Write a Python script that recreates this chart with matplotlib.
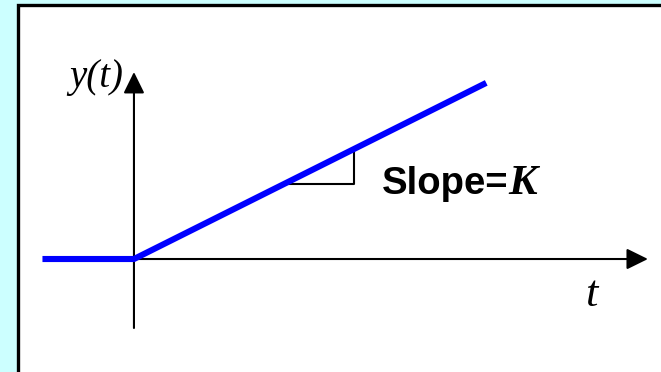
import matplotlib
matplotlib.use("Agg")
import matplotlib.pyplot as plt
from matplotlib.patches import Rectangle

# ramp input: y(t) = 0 for t < 0, K*t for t >= 0
K = 0.5
t = [-1.0, 0.0, 3.85]
y = [0.0, 0.0, K * 3.85]

# little slope triangle drawn on the ramp
tri_t = [1.65, 2.4]

fig = plt.figure(figsize=(6.61, 3.72), dpi=100)
fig.patch.set_facecolor("#ccffff")

ax = fig.add_axes([0, 0, 1, 1])
ax.set_xlim(-1.464, 5.76)
ax.set_ylim(-1.235, 2.831)
ax.axis("off")

# white slide panel with black edge
ax.add_patch(Rectangle((18 / 661, -0.1), 1.1, (372 - 5) / 372 + 0.1,
                       transform=fig.transFigure, facecolor="white",
                       edgecolor="black", lw=2.4, zorder=0, clip_on=False))

# axes with arrows
arrow = dict(arrowstyle="-|>,head_length=0.65,head_width=0.32", color="black",
             lw=1.5, shrinkA=0, shrinkB=0, mutation_scale=20)
ax.annotate("", xy=(5.617, 0), xytext=(0, 0), arrowprops=arrow)
ax.annotate("", xy=(0, 2.044), xytext=(0, -0.754), arrowprops=arrow)

# ramp
ax.plot(t, y, color="#0000ff", lw=4.4, solid_capstyle="butt", solid_joinstyle="miter", zorder=3)

# slope triangle
ax.plot([tri_t[0], tri_t[1], tri_t[1]], [K * tri_t[0], K * tri_t[0], K * tri_t[1]],
        color="black", lw=1.5, zorder=2)

ax.text(-0.12, 1.88, "y(t)", family="Liberation Serif", style="italic",
        fontsize=28, ha="right", va="baseline")
ax.text(5.0, -0.514, "t", family="Liberation Serif", style="italic",
        fontsize=32, ha="center", va="baseline")

slope = ax.text(2.71, 0.71, "Slope=", family="Liberation Sans", weight="bold",
                fontsize=27.5, ha="left", va="baseline")
ax.annotate("K", xy=(1, 0.71), xycoords=(slope, "data"), family="Liberation Serif",
            weight="bold", style="italic", fontsize=31, ha="left", va="baseline")

fig.savefig("out.png", dpi=100, facecolor=fig.get_facecolor())
